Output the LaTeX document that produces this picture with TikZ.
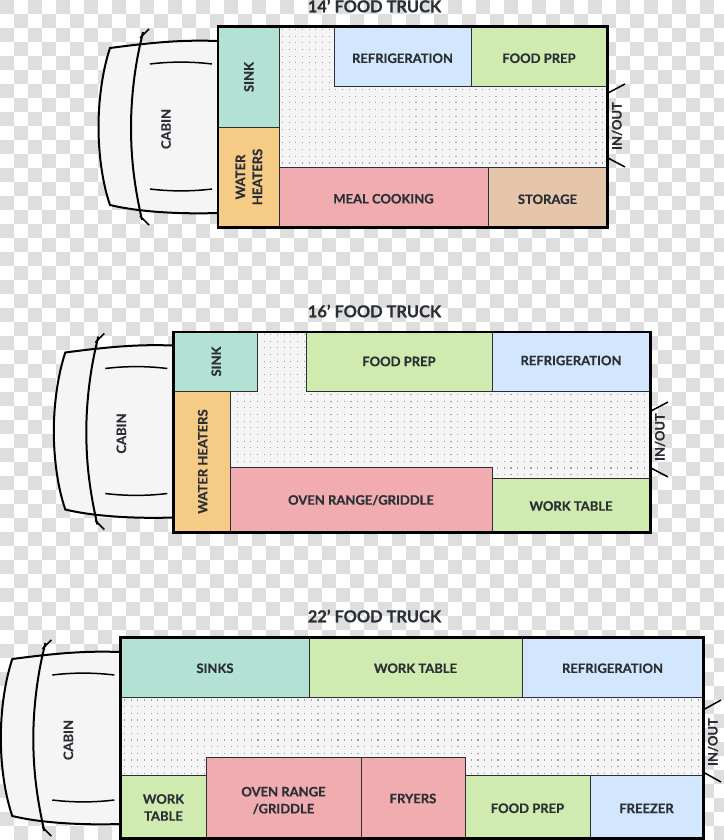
\documentclass[tikz,border=0pt]{standalone}
\usepackage{fontspec}
\setmainfont{Lato}[BoldFeatures={FakeBold=0.5}]
\usepackage{xcolor}
\definecolor{checkgrey}{HTML}{DEDEDE}
\definecolor{floorgrey}{HTML}{F5F5F5}
\definecolor{dotgrey}{HTML}{A0A0A0}
\definecolor{inkdark}{HTML}{2A2F35}
\definecolor{sinkgreen}{HTML}{B3E2D5}
\definecolor{heateryellow}{HTML}{F6CB85}
\definecolor{fridgeblue}{HTML}{D2E6FD}
\definecolor{prepgreen}{HTML}{CFEBAF}
\definecolor{cookred}{HTML}{F0ACAE}
\definecolor{storagetan}{HTML}{E6C6AA}
\tikzset{zone/.style = {draw=inkdark, line width=0.7pt, inner sep=0pt, align=center, text=inkdark, text height=13pt, font=\fontsize{13}{17}\selectfont\bfseries}}
\tikzset{upzone/.style = {zone, rotate=90, text height=9.4pt}}
\tikzset{title/.style = {inner sep=0pt, text=inkdark, font=\fontsize{16.4}{18}\selectfont\bfseries}}
\tikzset{sidelabel/.style = {inner sep=0pt, rotate=90, text=inkdark, font=\fontsize{13}{16}\selectfont\bfseries}}
\tikzset{wall/.style = {line width=2.5pt, draw=black}}
\tikzset{cabin/.pic = {
    \fill[floorgrey] (0,-86) .. controls (-30,-87) and (-55,-86) .. (-108,-79) .. controls (-116,-55) and (-119.5,-25) .. (-119.5,0) .. controls (-119.5,25) and (-116,55) .. (-108,78) .. controls (-75,86) and (-30,87) .. (0,86) -- cycle;
    \draw[line width=2pt, draw=black] (0,-86) .. controls (-30,-87) and (-55,-86) .. (-108,-79) .. controls (-116,-55) and (-119.5,-25) .. (-119.5,0) .. controls (-119.5,25) and (-116,55) .. (-108,78) .. controls (-75,86) and (-30,87) .. (0,86);
    \draw[line width=2pt, draw=black] (-75,-95) -- (-78,-82) .. controls (-84,-55) and (-87,-25) .. (-87,0) .. controls (-87,30) and (-84,55) .. (-78,84) -- (-76,93);
    \draw[line width=1.5pt, draw=black] (-78,-89) -- (-69,-98);
    \draw[line width=1.5pt, draw=black] (-78,89) -- (-69,98);
    \draw[line width=1.5pt, draw=black] (-68,-63) .. controls (-48,-65.5) and (-26,-65.5) .. (-6,-63);
    \draw[line width=1.5pt, draw=black] (-68,62) .. controls (-48,64.5) and (-26,64.5) .. (-6,62);
    \node[sidelabel] (-name) at (-52,2) {CABIN};
}}
\newcommand{\floordots}[4]{
    \foreach \i in {0,...,#3} \foreach \j in {0,...,#4}
        \fill[dotgrey] ({#1+\i*6.67-0.6},{#2+\j*6.67-0.6}) rectangle ++(1.2,1.2);
}

\begin{document}
\begin{tikzpicture}[x=1pt,y=-1pt]
    \useasboundingbox (0,0) rectangle (723,840);

    % checker background
    \fill[white] (0,0) rectangle (723,840);
    \foreach \i in {0,...,51} \foreach \j in {0,...,60} {
        \pgfmathtruncatemacro{\odd}{mod(\i+\j,2)}
        \ifnum\odd=0
            \fill[checkgrey] (\i*14,\j*14) rectangle ++(14,14);
        \fi
    }

    % 14 foot truck
    \node[title] (titleA) at (374.5,6) {14’ FOOD TRUCK};
    \pic (cabA) at (218,127) {cabin};
    \fill[floorgrey] (219,27) rectangle (607,227);
    \floordots{282.5}{29.5}{48}{20}
    \node[upzone, fill=sinkgreen, minimum width=100, minimum height=60.5] (sinkA) at (249,77) {SINK};
    \node[upzone, fill=heateryellow, minimum width=100, minimum height=60.5, text height=26.4pt] (heatA) at (249,177) {WATER\\HEATERS};
    \node[zone, fill=fridgeblue, minimum width=137, minimum height=59.5] (fridgeA) at (402.5,56.5) {REFRIGERATION};
    \node[zone, fill=prepgreen, minimum width=136, minimum height=59.5] (prepA) at (539,56.5) {FOOD PREP};
    \node[zone, fill=cookred, minimum width=209, minimum height=60] (cookA) at (383.5,197) {MEAL COOKING};
    \node[zone, fill=storagetan, minimum width=119, minimum height=60, text height=14pt] (storeA) at (547.5,197) {STORAGE};
    \draw[wall] (218,26.5) rectangle (607.5,227.5);
    \draw[line width=1.5pt] (608,93) -- (625,84);
    \draw[line width=1.5pt] (608,158) -- (625,167);
    \node[sidelabel] (doorA) at (617,126) {IN/OUT};

    % 16 foot truck
    \node[title] (titleB) at (374.5,311) {16’ FOOD TRUCK};
    \pic (cabB) at (173.3,431.5) {cabin};
    \fill[floorgrey] (174,332) rectangle (650,532);
    \floordots{177.5}{334.5}{70}{21}
    \node[upzone, fill=sinkgreen, minimum width=59, minimum height=83, text height=11pt] (sinkB) at (215.5,361.5) {SINK};
    \node[upzone, fill=heateryellow, minimum width=141, minimum height=56.5, text height=11pt] (heatB) at (202,461.5) {WATER HEATERS};
    \node[zone, fill=prepgreen, minimum width=186, minimum height=59, text height=9.4pt] (prepB) at (399,361.5) {FOOD PREP};
    \node[zone, fill=fridgeblue, minimum width=158, minimum height=59, text height=9.4pt, text depth=2pt] (fridgeB) at (571,361.5) {REFRIGERATION};
    \node[zone, fill=cookred, minimum width=262, minimum height=65, text height=11pt] (cookB) at (361,499.5) {OVEN RANGE/GRIDDLE};
    \node[zone, fill=prepgreen, minimum width=158, minimum height=54, text height=11.5pt] (tableB) at (571,505) {WORK TABLE};
    \draw[wall] (173.5,332) rectangle (650.5,532.5);
    \draw[line width=1.5pt] (651,411) -- (668,402);
    \draw[line width=1.5pt] (651,468) -- (668,477);
    \node[sidelabel] (doorB) at (660,437) {IN/OUT};

    % 22 foot truck
    \node[title] (titleC) at (374.5,616) {22’ FOOD TRUCK};
    \pic (cabC) at (120.3,738) {cabin};
    \fill[floorgrey] (121,638) rectangle (703,838);
    \floordots{124.5}{700}{86}{12}
    \node[zone, fill=sinkgreen, minimum width=188, minimum height=59, text height=11pt] (sinksC) at (215,667.5) {SINKS};
    \node[zone, fill=prepgreen, minimum width=213, minimum height=59, text height=11pt] (tableC) at (415.5,667.5) {WORK TABLE};
    \node[zone, fill=fridgeblue, minimum width=181, minimum height=59, text height=11pt] (fridgeC) at (612.5,667.5) {REFRIGERATION};
    \node[zone, fill=prepgreen, minimum width=85, minimum height=63, text height=28.4pt] (tableD) at (163.5,806.5) {WORK\\TABLE};
    \node[zone, fill=cookred, minimum width=155, minimum height=81, text height=32.4pt] (cookC) at (283.5,797.5) {OVEN RANGE\\/GRIDDLE};
    \node[zone, fill=cookred, minimum width=104, minimum height=81, text height=11.5pt] (fryC) at (413,797.5) {FRYERS};
    \node[zone, fill=prepgreen, minimum width=125, minimum height=63, text height=13pt] (prepC) at (527.5,806.5) {FOOD PREP};
    \node[zone, fill=fridgeblue, minimum width=113, minimum height=63, text height=13pt] (freezeC) at (646.5,806.5) {FREEZER};
    \draw[wall] (120.5,637.5) rectangle (703.5,838.5);
    \draw[line width=1.5pt] (703,710) -- (721,700);
    \draw[line width=1.5pt] (703,772) -- (721,782);
    \node[sidelabel] (doorC) at (713,742) {IN/OUT};
\end{tikzpicture}
\end{document}
